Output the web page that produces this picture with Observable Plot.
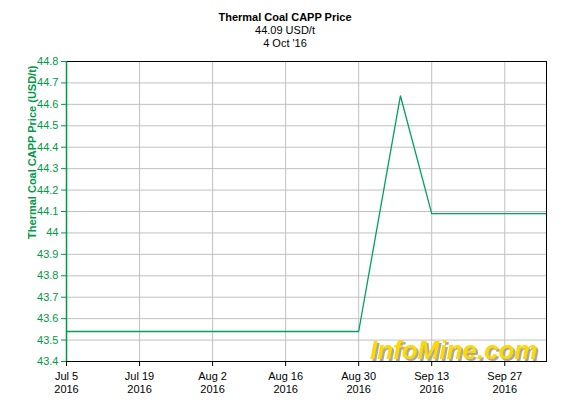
<!DOCTYPE html>
<html><head><meta charset="utf-8">
<script src="https://cdn.jsdelivr.net/npm/d3@7"></script>
<script src="https://cdn.jsdelivr.net/npm/@observablehq/plot@0.6"></script>
<style>
body{margin:0;background:#fff;font-family:"Liberation Sans",Arial,sans-serif;}
#head{width:570px;text-align:center;padding-top:11px;height:41px;line-height:13px;font-size:11px;color:#000;}
#head b{font-size:11px;}
</style></head><body>
<div id="head"><b>Thermal Coal CAPP Price</b><br>44.09 USD/t<br>4 Oct '16</div>
<div id="chart"></div>
<script>
const dates = ["2016-07-05","2016-08-30","2016-09-07","2016-09-13","2016-10-05"];
const prices = [43.54, 43.54, 44.64, 44.09, 44.09];
const xTicks = ["2016-07-05","2016-07-19","2016-08-02","2016-08-16","2016-08-30","2016-09-13","2016-09-27"];
const yTicks = [43.4,43.5,43.6,43.7,43.8,43.9,44,44.1,44.2,44.3,44.4,44.5,44.6,44.7,44.8];
const yLabel = "Thermal Coal CAPP Price (USD/t)";
const watermark = "InfoMine.com";

const data = dates.map((d,i)=>({date:new Date(d), price:prices[i]}));
const xt = xTicks.map(d=>new Date(d));
const green = "#009944";
const fmt = d3.utcFormat("%b %-d");

const chart = Plot.plot({
  width:570, height:353,
  marginTop:9, marginBottom:44, marginLeft:66, marginRight:24,
  style:{fontFamily:"Liberation Sans, Arial, sans-serif", fontSize:"11px", background:"#fff"},
  x:{type:"utc", domain:[new Date("2016-07-05"), new Date("2016-10-05")]},
  y:{domain:[43.4,44.8]},
  marks:[
    Plot.gridX(xt,{stroke:"#c0c0c0", strokeOpacity:1}),
    Plot.gridY(yTicks,{stroke:"#c0c0c0", strokeOpacity:1}),
    Plot.text([watermark],{frameAnchor:"bottom-right", dx:-9, dy:-3, fontSize:26, fontWeight:"bold", fontStyle:"italic", fill:"#ffd800", textAnchor:"end", lineAnchor:"bottom", imageFilter:"drop-shadow(2px 2px 0px #a8a8a8)"}),
    Plot.line(data,{x:"date", y:"price", stroke:"#00a060", strokeWidth:1.3}),
    Plot.frame({stroke:"#000"}),
    Plot.axisX(xt,{tickSize:5, tickPadding:4, stroke:"#000", fill:"#000", fontSize:11,
      tickFormat:d=>fmt(d)+"\n"+d.getUTCFullYear(), label:null, lineHeight:1.2}),
    Plot.axisY(yTicks,{tickSize:5, tickPadding:3, stroke:green, fill:green, fontSize:11, tickFormat:d=>String(d), label:null}),
    Plot.ruleX([0],{x:()=>new Date("2016-07-05"), stroke:green, strokeWidth:1.5}),
    Plot.text([yLabel],{frameAnchor:"top-left", rotate:-90, textAnchor:"end", dx:-38, dy:4, fill:green, fontWeight:"bold", fontSize:11})
  ]
});
document.getElementById("chart").appendChild(chart);
</script>
</body></html>
